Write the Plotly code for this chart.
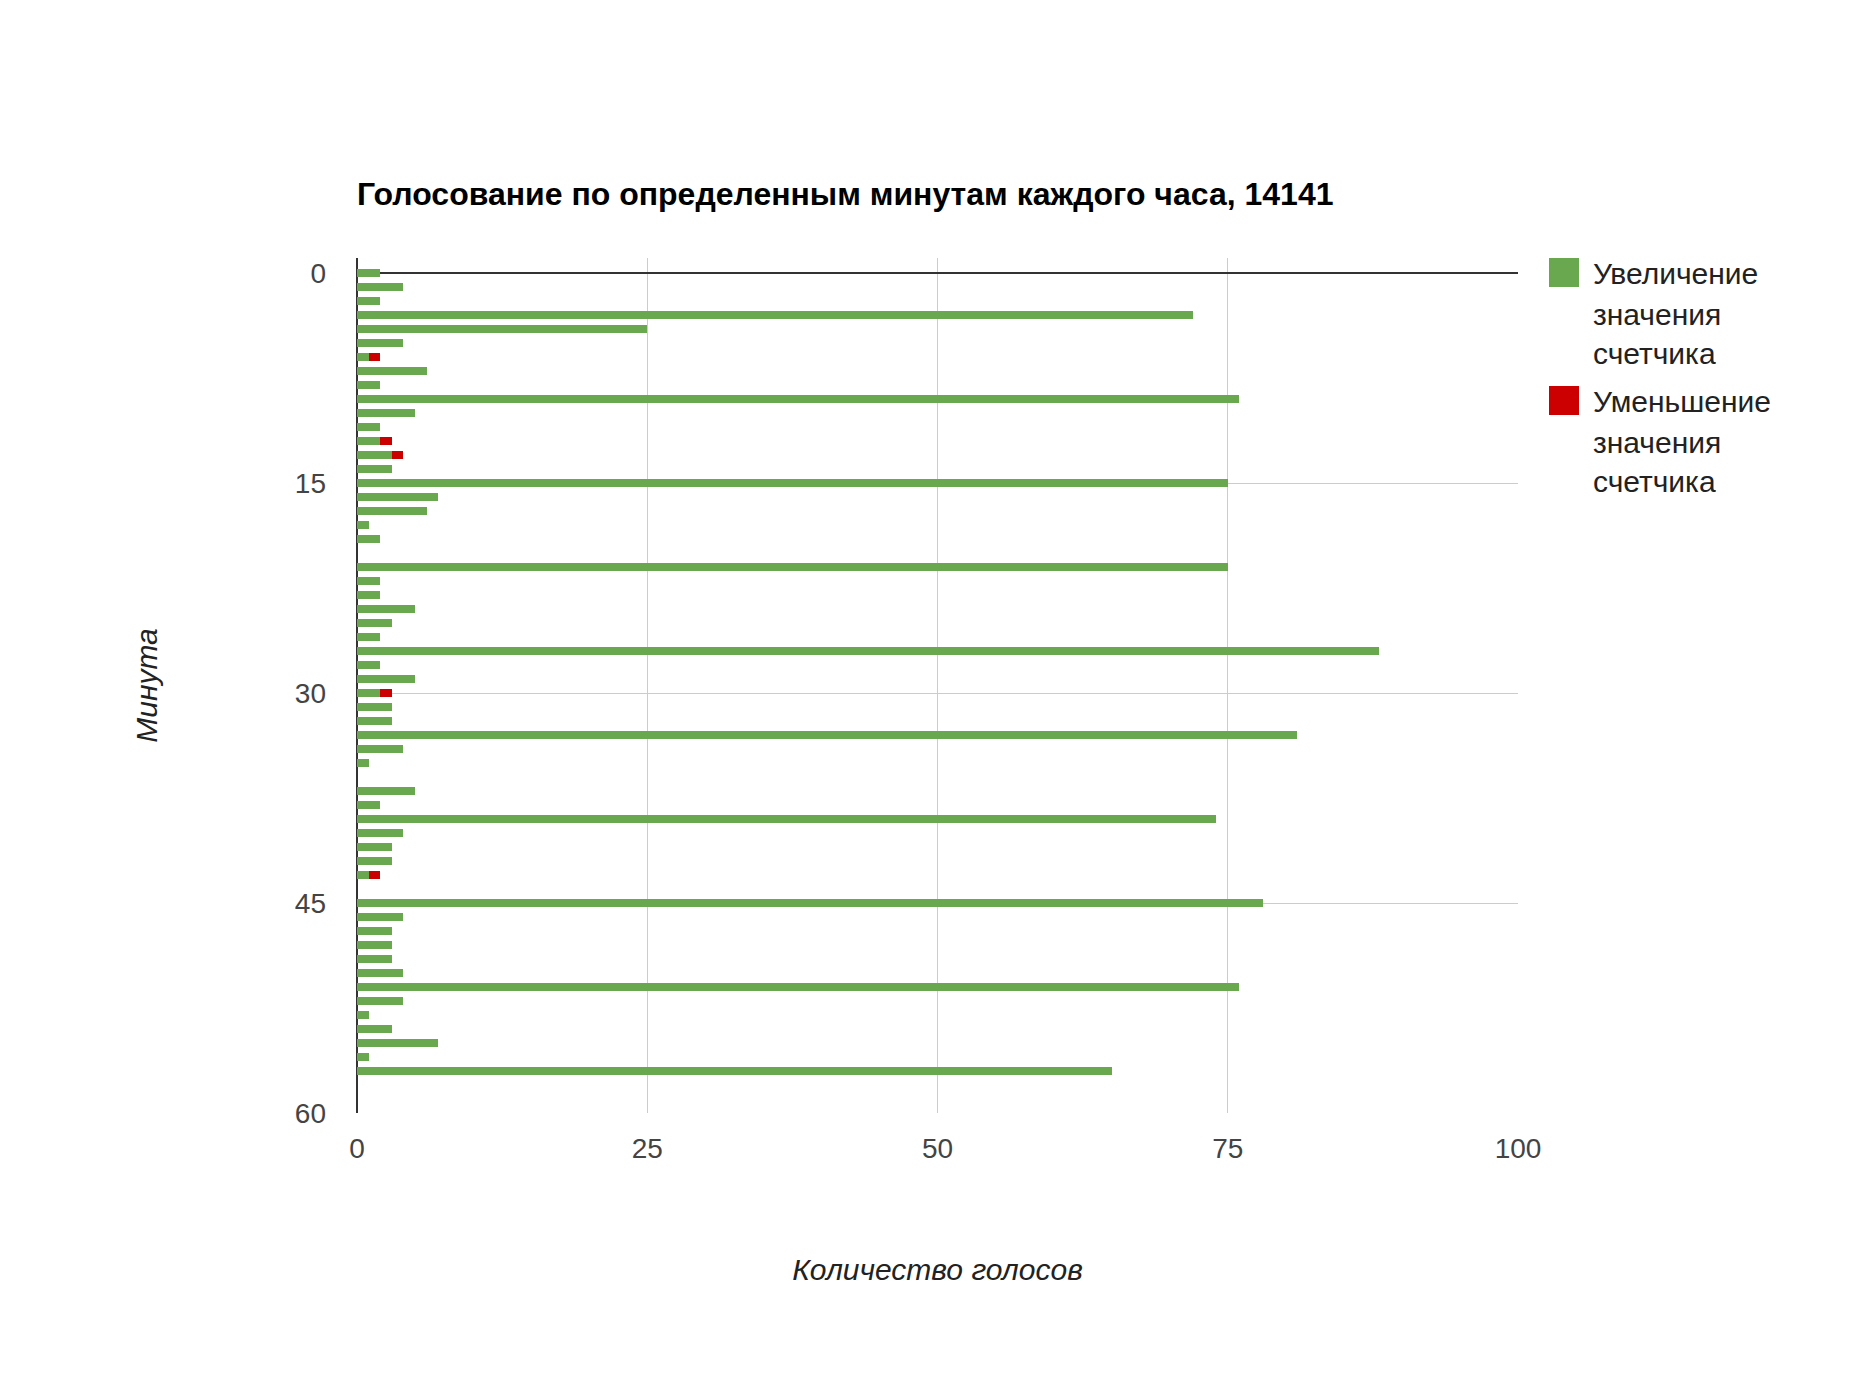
import plotly.graph_objects as go

minutes = list(range(60))
increase = [2, 4, 2, 72, 25, 4, 1, 6, 2, 76,
            5, 2, 2, 3, 3, 75, 7, 6, 1, 2,
            0, 75, 2, 2, 5, 3, 2, 88, 2, 5,
            2, 3, 3, 81, 4, 1, 0, 5, 2, 74,
            4, 3, 3, 1, 0, 78, 4, 3, 3, 3,
            4, 76, 4, 1, 3, 7, 1, 65, 0, 0]
decrease = [0, 0, 0, 0, 0, 0, 1, 0, 0, 0,
            0, 0, 1, 1, 0, 0, 0, 0, 0, 0,
            0, 0, 0, 0, 0, 0, 0, 0, 0, 0,
            1, 0, 0, 0, 0, 0, 0, 0, 0, 0,
            0, 0, 0, 1, 0, 0, 0, 0, 0, 0,
            0, 0, 0, 0, 0, 0, 0, 0, 0, 0]
series_names = ["Увеличение значения счетчика", "Уменьшение значения счетчика"]
legend_lines = [["Увеличение", "значения", "счетчика"], ["Уменьшение", "значения", "счетчика"]]
x_ticks = [0, 25, 50, 75, 100]
y_ticks = [0, 15, 30, 45, 60]
title_text = "Голосование по определенным минутам каждого часа, 14141"
x_title = "Количество голосов"
y_title = "Минута"

GREEN = "#6aa84f"
RED = "#cc0000"
FONT = "Liberation Sans, Arial, sans-serif"

W, H = 1876, 1376
L, R, T, B = 357, 1518, 258, 1113
Y_TOP = -15 / 14.0  # plot area extends slightly above minute 0

fig = go.Figure()
fig.add_trace(go.Bar(y=minutes, x=increase, orientation="h", name=series_names[0],
                     marker=dict(color=GREEN, line=dict(width=0)),
                     showlegend=False))
fig.add_trace(go.Bar(y=minutes, x=decrease, orientation="h", name=series_names[1],
                     marker=dict(color=RED, line=dict(width=0)),
                     showlegend=False))

def px_x(p):
    return (p - L) / (R - L)

def px_y(p):
    return 1 - (p - T) / (B - T)

shapes = []
annotations = []
colors = [GREEN, RED]
box_tops = [258, 386]
line_ys = [[273, 314, 353], [401, 442, 481]]
for i in range(2):
    shapes.append(dict(type="rect", xref="paper", yref="paper",
                       x0=px_x(1549), x1=px_x(1579),
                       y0=px_y(box_tops[i] + 29), y1=px_y(box_tops[i]),
                       fillcolor=colors[i], line=dict(width=0)))
    for j, txt in enumerate(legend_lines[i]):
        annotations.append(dict(text=txt, xref="paper", yref="paper",
                                x=px_x(1591), y=px_y(line_ys[i][j]),
                                xanchor="left", yanchor="middle", showarrow=False,
                                font=dict(family=FONT, size=30, color="#222222")))

fig.update_layout(
    width=W, height=H,
    margin=dict(l=L, r=W - R, t=T, b=H - B, pad=0),
    paper_bgcolor="white", plot_bgcolor="white",
    barmode="stack", bargap=0.48,
    title=dict(text="<b>" + title_text + "</b>", x=0,
               xref="paper", xanchor="left", yanchor="middle",
               y=1 - 194 / H, yref="container",
               font=dict(family=FONT, size=32, color="#000000")),
    font=dict(family=FONT, size=28, color="#444444"),
    shapes=shapes, annotations=annotations,
)

fig.update_xaxes(range=[0, 100], tickvals=x_ticks, ticks="", showgrid=True,
                 gridcolor="#cccccc", gridwidth=1.3, zeroline=True, zerolinecolor="#333333",
                 zerolinewidth=1.5, showline=False, ticklabelstandoff=16,
                 tickfont=dict(family=FONT, size=28, color="#444444"),
                 title=dict(text="<i>" + x_title + "</i>", standoff=95,
                            font=dict(family=FONT, size=30, color="#222222")))
fig.update_yaxes(range=[60, Y_TOP], tickvals=y_ticks, ticks="", showgrid=True,
                 gridcolor="#cccccc", gridwidth=1.3, zeroline=True, zerolinecolor="#333333",
                 zerolinewidth=1.5, showline=False, ticklabelstandoff=30,
                 tickfont=dict(family=FONT, size=28, color="#444444"),
                 title=dict(text="<i>" + y_title + "</i>", standoff=128,
                            font=dict(family=FONT, size=30, color="#222222")))

fig.write_html("out.html")
